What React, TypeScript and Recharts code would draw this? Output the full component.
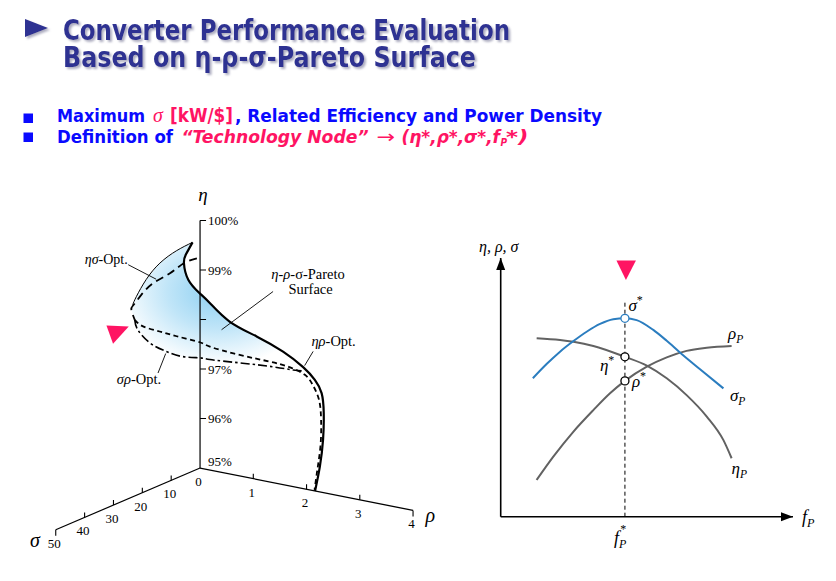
import { ComposedChart, LineChart, Line, Scatter, XAxis, YAxis, ReferenceLine, ReferenceDot } from 'recharts'

// left panel: curves on the eta-rho-sigma Pareto surface, each point is [rho, sigma, eta]
// rho in kW/dm3, sigma in kW/$, eta in %
const etaRhoOpt = [
  [2.16, 0, 95.0], [2.25, 0, 95.51], [2.31, 0, 96.07], [2.35, 0.5, 96.63], [2.31, 0.5, 97.02],
  [2.21, 1, 97.28], [1.99, 1, 97.49], [1.64, 1.5, 97.74], [1.17, 2, 97.96], [0.69, 2.5, 98.17],
  [0.35, 3, 98.48], [0.18, 3.5, 98.66], [0.05, 5, 98.94], [0.05, 6.5, 99.31], [0.14, 7.5, 99.53],
  [0.32, 8.5, 99.84],
]
const etaSigmaEdge = [
  [0.32, 8.5, 99.84], [0.32, 14, 99.81], [0.33, 20, 99.71], [0.29, 24, 99.47], [0.27, 27, 99.2],
  [0.28, 28.5, 99.07],
]
const etaSigmaOpt = [
  [0.32, 7, 99.48], [0.21, 9.5, 99.42], [0.14, 13, 99.29], [0.15, 19, 99.24], [0.17, 23.5, 99.12],
  [0.19, 26.5, 99.0], [0.2, 27.5, 98.93], [0.21, 26.5, 98.7],
]
const nodeCurve = [
  [0.21, 26.5, 98.7], [0.23, 24, 98.51], [0.27, 19, 98.29], [0.32, 14, 98.08], [0.44, 8, 97.83],
  [0.51, 6, 97.71], [0.96, 4, 97.59], [1.47, 3, 97.54], [1.79, 2, 97.47], [2.05, 1.5, 97.36],
  [2.17, 1, 97.17], [2.26, 0.5, 96.88], [2.3, 0.5, 96.48], [2.28, 0.3, 95.97], [2.22, 0.2, 95.49],
  [2.15, 0, 95.02],
]
const sigmaRhoOpt = [
  [0.21, 26.5, 98.7], [0.21, 25.5, 98.48], [0.25, 22, 98.13], [0.29, 17, 97.84], [0.33, 12, 97.62],
  [0.44, 8, 97.52], [0.51, 6, 97.45], [0.96, 4, 97.43], [1.51, 2.5, 97.43], [1.83, 1.5, 97.41],
  [2.01, 1.2, 97.42],
]

const rhoTicks = [0, 1, 2, 3, 4]
const sigmaTicks = [10, 20, 30, 40, 50]
const etaTicks = [95, 96, 97, 98, 99, 100]
const etaTickLabels: Record<number, string> = { 95: '95%', 96: '96%', 97: '97%', 99: '99%', 100: '100%' }

// right panel: [f_P, value] in arbitrary units
const sigmaP = [
  [1.1, 5.35], [1.57, 5.9], [2.03, 6.38], [2.49, 6.79], [2.94, 7.15], [3.4, 7.45], [3.85, 7.63],
  [4.25, 7.67], [4.65, 7.6], [5.22, 7.22], [5.68, 6.8], [6.16, 6.32], [6.82, 5.7], [7.62, 4.96],
]
const etaP = [
  [1.23, 6.9], [2.03, 6.83], [2.49, 6.76], [3.17, 6.6], [4.25, 6.18], [5.0, 5.84], [5.68, 5.35],
  [6.36, 4.7], [7.05, 3.87], [7.62, 2.96], [7.9, 2.26],
]
const rhoP = [
  [1.23, 1.42], [1.8, 2.32], [2.49, 3.29], [3.17, 4.12], [3.74, 4.77], [4.25, 5.25], [5.0, 5.8],
  [5.68, 6.16], [6.36, 6.41], [7.05, 6.53], [7.9, 6.6],
]
const fStar = 4.25
const nodeLineTop = 8.38

const serif = "'Liberation Serif', 'DejaVu Serif', serif"
const narrow = "'DejaVu Sans Condensed', 'Liberation Sans Narrow', 'DejaVu Sans', sans-serif"
const navy = '#2e3192'
const blue = '#0a0aff'
const pink = '#ff1463'
const curveBlue = '#2b7dbf'
const curveGray = '#626262'

// oblique projection of (rho, sigma, eta) onto the page plane
const project = ([rho, sigma, eta]: number[]) => ({
  x: rho - 0.0542 * sigma,
  y: eta - 0.2141 * rho - 0.02493 * sigma,
})
const toXY = (pts: number[][]) => pts.map(([x, y]) => ({ x, y }))
const valueAt = (pts: number[][], f: number) => (pts.find((p) => p[0] === f) || [f, 0])[1]

const NoDot = () => <g />

const AxisTick = (props: any) => {
  const { cx, cy, payload } = props
  const { axis, v } = payload
  if (axis === 'eta') {
    return (
      <g>
        {v !== 95 && <line x1={cx} y1={cy} x2={cx + 6} y2={cy} stroke="#000" strokeWidth={1.1} />}
        {etaTickLabels[v] && (
          <text x={cx + 8} y={v === 95 ? cy - 2.5 : cy + 4.5} fontFamily={serif} fontSize={13} fill="#000">{etaTickLabels[v]}</text>
        )}
      </g>
    )
  }
  const last = axis === 'rho' ? v === 4 : v === 50
  return (
    <g>
      {v !== 0 && <line x1={cx} y1={cy} x2={cx} y2={last ? cy + 6 : cy - 5} stroke="#000" strokeWidth={1.1} />}
      <text x={cx - 1.5} y={cy + 18} textAnchor="middle" fontFamily={serif} fontSize={13} fill="#000">{v}</text>
    </g>
  )
}

// a curve drawn as a scatter line so that it stacks in source order with the surface fill
const curve = (pts: { x: number; y: number }[], style: any, joint = 'natural') => (
  <Scatter data={pts} line={{ fill: 'none', ...style }} lineJointType={joint as any} shape={NoDot} isAnimationActive={false} />
)

function LeftPanel() {
  const surface = [
    ...etaSigmaEdge,
    ...etaSigmaOpt.slice(6),
    ...sigmaRhoOpt.slice(1),
    ...etaRhoOpt.slice(6),
  ].map(project)
  const ticks = [
    ...etaTicks.map((v) => ({ ...project([0, 0, v]), v, axis: 'eta' })),
    ...rhoTicks.map((v) => ({ ...project([v, 0, 95]), v, axis: 'rho' })),
    ...sigmaTicks.map((v) => ({ ...project([0, v, 95]), v, axis: 'sigma' })),
  ]
  const etaAxis = [[0, 0, 95], [0, 0, 100]].map(project)
  const rhoAxis = [[0, 0, 95], [4, 0, 95]].map(project)
  const sigmaAxis = [[0, 0, 95], [0, 50, 95]].map(project)
  const top = project([0, 0, 100])
  const rhoEnd = project([4, 0, 95])
  const sigmaEnd = project([0, 50, 95])
  const aES = project(etaSigmaOpt[3])
  const aSR = project(sigmaRhoOpt[3])
  const aER = project(etaRhoOpt[6])
  const aSurf = project(etaRhoOpt[9])
  const aNode = project(nodeCurve[0])
  const axisStyle = { stroke: '#000', strokeWidth: 1.2 }

  return (
    <ComposedChart width={426} height={381.15} margin={{ top: 0, right: 0, bottom: 0, left: 0 }}>
      <XAxis type="number" dataKey="x" domain={[-3.4, 4.6]} allowDataOverflow hide />
      <YAxis type="number" dataKey="y" domain={[93.2, 100.9]} allowDataOverflow hide />
      {curve(surface, { fill: 'url(#paretoFill)', stroke: 'none' }, 'linear')}
      {curve(etaAxis, axisStyle, 'linear')}
      {curve(rhoAxis, axisStyle, 'linear')}
      {curve(sigmaAxis, axisStyle, 'linear')}
      <Scatter data={ticks} shape={AxisTick} isAnimationActive={false} />
      {curve(etaSigmaEdge.map(project), { stroke: '#000', strokeWidth: 1 })}
      {curve(etaSigmaOpt.map(project), { stroke: '#000', strokeWidth: 1.8, strokeDasharray: '8 5' })}
      {curve(nodeCurve.map(project), { stroke: '#000', strokeWidth: 1.8, strokeDasharray: '5 3.5' })}
      {curve(sigmaRhoOpt.map(project), { stroke: '#000', strokeWidth: 1.6, strokeDasharray: '9 3 2.5 3' })}
      {curve(etaRhoOpt.map(project), { stroke: '#000', strokeWidth: 2.2 })}

      <ReferenceDot x={top.x} y={top.y} r={0} shape={(p: any) => (
        <text x={p.cx + 3} y={p.cy - 20} textAnchor="middle" fontFamily={serif} fontStyle="italic" fontSize={19} fill="#000">η</text>
      )} />
      <ReferenceDot x={rhoEnd.x} y={rhoEnd.y} r={0} shape={(p: any) => (
        <text x={p.cx + 12.5} y={p.cy + 12} fontFamily={serif} fontStyle="italic" fontSize={20} fill="#000">ρ</text>
      )} />
      <ReferenceDot x={sigmaEnd.x} y={sigmaEnd.y} r={0} shape={(p: any) => (
        <text x={p.cx - 16} y={p.cy + 17} textAnchor="end" fontFamily={serif} fontStyle="italic" fontSize={20} fill="#000">σ</text>
      )} />
      <ReferenceDot x={aES.x} y={aES.y} r={0} shape={(p: any) => (
        <g>
          <line x1={p.cx - 25} y1={p.cy - 18.5} x2={p.cx + 3} y2={p.cy - 4} stroke="#000" strokeWidth={0.9} />
          <text x={p.cx - 25.5} y={p.cy - 19} textAnchor="end" fontFamily={serif} fontSize={14} fill="#000">
            <tspan fontStyle="italic">ησ</tspan>-Opt.
          </text>
        </g>
      )} />
      <ReferenceDot x={aSR.x} y={aSR.y} r={0} shape={(p: any) => (
        <g>
          <line x1={p.cx - 8.4} y1={p.cy + 21.5} x2={p.cx - 0.7} y2={p.cy + 2} stroke="#000" strokeWidth={0.9} />
          <text x={p.cx - 27.5} y={p.cy + 32.5} textAnchor="middle" fontFamily={serif} fontSize={14.5} fill="#000">
            <tspan fontStyle="italic">σρ</tspan>-Opt.
          </text>
        </g>
      )} />
      <ReferenceDot x={aER.x} y={aER.y} r={0} shape={(p: any) => (
        <g>
          <line x1={p.cx + 10} y1={p.cy - 15.7} x2={p.cx + 1.5} y2={p.cy - 1.5} stroke="#000" strokeWidth={0.9} />
          <text x={p.cx + 8.3} y={p.cy - 20.7} fontFamily={serif} fontSize={14.5} fill="#000">
            <tspan fontStyle="italic">ηρ</tspan>-Opt.
          </text>
        </g>
      )} />
      <ReferenceDot x={aSurf.x} y={aSurf.y} r={0} shape={(p: any) => (
        <g>
          <line x1={p.cx + 43.5} y1={p.cy - 30} x2={p.cx - 8} y2={p.cy + 8.2} stroke="#000" strokeWidth={0.9} />
          <text x={p.cx + 78.5} y={p.cy - 43} textAnchor="middle" fontFamily={serif} fontSize={14.5} fill="#000">
            <tspan fontStyle="italic">η</tspan>-<tspan fontStyle="italic">ρ</tspan>-σ-Pareto
          </text>
          <text x={p.cx + 81} y={p.cy - 28} textAnchor="middle" fontFamily={serif} fontSize={14.5} fill="#000">Surface</text>
        </g>
      )} />
      <ReferenceDot x={aNode.x} y={aNode.y} r={0} shape={(p: any) => (
        <polygon points={`${p.cx - 28.3},${p.cy + 5.6} ${p.cx - 6},${p.cy + 6.6} ${p.cx - 21.7},${p.cy + 24}`} fill={pink} />
      )} />
    </ComposedChart>
  )
}

function RightPanel() {
  const sigmaStar = valueAt(sigmaP, fStar)
  const etaStar = valueAt(etaP, fStar)
  const rhoStar = valueAt(rhoP, fStar)
  const lastOf = (pts: number[][]) => pts[pts.length - 1]
  const sub = (x: number, y: number, main: string, s: string, size = 17) => (
    <text x={x} y={y} fontFamily={serif} fontStyle="italic" fontSize={size} fill="#000">
      {main}<tspan fontSize={size * 0.68} dy={4}>{s}</tspan>
    </text>
  )
  const star = (x: number, y: number, main: string) => (
    <text x={x} y={y} fontFamily={serif} fontStyle="italic" fontSize={17} fill="#000">
      {main}<tspan fontSize={12} dy={-7} fontStyle="normal">*</tspan>
    </text>
  )
  return (
    <LineChart width={375} height={330} margin={{ top: 28, right: 42, bottom: 43.3, left: 40.7 }}>
      <XAxis type="number" dataKey="x" domain={[0, 10]} allowDataOverflow hide />
      <YAxis type="number" dataKey="y" domain={[0, 10]} allowDataOverflow hide />
      <ReferenceLine segment={[{ x: 0, y: 0 }, { x: 10, y: 0 }]} stroke="#000" strokeWidth={1.6} ifOverflow="visible" />
      <ReferenceLine segment={[{ x: 0, y: 0 }, { x: 0, y: 10 }]} stroke="#000" strokeWidth={1.6} ifOverflow="visible" />
      <ReferenceDot x={10} y={0} r={0} ifOverflow="visible" shape={(p: any) => (
        <g>
          <polygon points={`${p.cx},${p.cy} ${p.cx - 12},${p.cy - 4.5} ${p.cx - 12},${p.cy + 4.5}`} fill="#000" />
          {sub(p.cx + 9, p.cy + 6, 'f', 'P', 18)}
        </g>
      )} />
      <ReferenceDot x={0} y={10} r={0} ifOverflow="visible" shape={(p: any) => (
        <g>
          <polygon points={`${p.cx},${p.cy} ${p.cx - 4.5},${p.cy + 12} ${p.cx + 4.5},${p.cy + 12}`} fill="#000" />
          <text x={p.cx - 2} y={p.cy - 6} textAnchor="middle" fontFamily={serif} fontStyle="italic" fontSize={16} fill="#000">η, ρ, σ</text>
        </g>
      )} />
      <ReferenceLine segment={[{ x: fStar, y: 0 }, { x: fStar, y: nodeLineTop }]} stroke="#000" strokeWidth={1} strokeDasharray="4 3" />
      <Line data={toXY(etaP)} dataKey="y" type="monotone" stroke={curveGray} strokeWidth={2} dot={false} activeDot={false} isAnimationActive={false} />
      <Line data={toXY(rhoP)} dataKey="y" type="monotone" stroke={curveGray} strokeWidth={2} dot={false} activeDot={false} isAnimationActive={false} />
      <Line data={toXY(sigmaP)} dataKey="y" type="monotone" stroke={curveBlue} strokeWidth={2} dot={false} activeDot={false} isAnimationActive={false} />

      <ReferenceDot x={fStar} y={sigmaStar} r={4} shape={(p: any) => (
        <g>
          <circle cx={p.cx} cy={p.cy} r={4} fill="#fff" stroke={curveBlue} strokeWidth={1.3} />
          {star(p.cx + 3.5, p.cy - 7, 'σ')}
        </g>
      )} />
      <ReferenceDot x={fStar} y={etaStar} r={4} shape={(p: any) => (
        <g>
          <circle cx={p.cx} cy={p.cy} r={4} fill="#fff" stroke="#000" strokeWidth={1.3} />
          {star(p.cx - 25, p.cy + 14, 'η')}
        </g>
      )} />
      <ReferenceDot x={fStar} y={rhoStar} r={4} shape={(p: any) => (
        <g>
          <circle cx={p.cx} cy={p.cy} r={4} fill="#fff" stroke="#000" strokeWidth={1.3} />
          {star(p.cx + 7, p.cy + 6, 'ρ')}
        </g>
      )} />
      <ReferenceDot x={fStar} y={nodeLineTop} r={0} shape={(p: any) => (
        <polygon points={`${p.cx - 8.5},${p.cy - 39.5} ${p.cx + 11},${p.cy - 39.5} ${p.cx + 1},${p.cy - 20}`} fill={pink} />
      )} />
      <ReferenceDot x={fStar} y={0} r={0} shape={(p: any) => (
        <text x={p.cx - 11} y={p.cy + 27} fontFamily={serif} fontStyle="italic" fontSize={18} fill="#000">
          f<tspan fontSize={12} dy={4}>P</tspan><tspan fontSize={12} dx={-6} dy={-15} fontStyle="normal">*</tspan>
        </text>
      )} />
      <ReferenceDot x={lastOf(rhoP)[0]} y={lastOf(rhoP)[1]} r={0} shape={(p: any) => sub(p.cx - 3.5, p.cy - 7, 'ρ', 'P')} />
      <ReferenceDot x={lastOf(sigmaP)[0]} y={lastOf(sigmaP)[1]} r={0} shape={(p: any) => sub(p.cx + 6.5, p.cy + 12.5, 'σ', 'P')} />
      <ReferenceDot x={lastOf(etaP)[0]} y={lastOf(etaP)[1]} r={0} shape={(p: any) => sub(p.cx, p.cy + 15.5, 'η', 'P')} />
    </LineChart>
  )
}

export default function App() {
  return (
    <div style={{ position: 'absolute', left: 0, top: 0, width: 836, height: 581, background: '#fff', overflow: 'hidden' }}>
      <svg width={836} height={160} style={{ position: 'absolute', left: 0, top: 0 }}>
        <defs>
          <radialGradient id="paretoFill" cx="0.5" cy="0.38" r="0.58">
            <stop offset="0" stopColor="#8ccff1" />
            <stop offset="0.5" stopColor="#c0e5f8" />
            <stop offset="1" stopColor="#ffffff" />
          </radialGradient>
          <filter id="titleShadow" x="-5%" y="-30%" width="110%" height="160%">
            <feDropShadow dx={2} dy={2} stdDeviation={1} floodColor="#8a8aa6" floodOpacity={0.7} />
          </filter>
        </defs>
        <g filter="url(#titleShadow)" fill={navy}>
          <polygon points="25,19 25,37 48,28" />
          <text fontFamily={narrow} fontWeight="bold" fontSize={28.5}>
            <tspan x={63} y={40} textLength={447} lengthAdjust="spacingAndGlyphs">Converter Performance Evaluation</tspan>
            <tspan x={63} y={67} textLength={413} lengthAdjust="spacingAndGlyphs">Based on η-ρ-σ-Pareto Surface</tspan>
          </text>
        </g>

        <rect x={23.5} y={113.5} width={9.5} height={9.5} fill={blue} />
        <rect x={23.5} y={132.5} width={9.5} height={9.5} fill={blue} />
        <text y={122} fontFamily={narrow} fontWeight="bold" fontSize={18} fill={blue}>
          <tspan x={57} textLength={88} lengthAdjust="spacingAndGlyphs">Maximum</tspan>
          <tspan x={153} fill={pink} fontFamily={serif} fontStyle="italic" fontWeight="normal" fontSize={20}>σ</tspan>
          <tspan x={170} fill={pink} fontSize={19} textLength={63} lengthAdjust="spacingAndGlyphs">[kW/$]</tspan>
          <tspan x={235} textLength={367} lengthAdjust="spacingAndGlyphs">, Related Efficiency and Power Density</tspan>
        </text>
        <text y={142.5} fontFamily={narrow} fontWeight="bold" fontSize={18} fill={blue}>
          <tspan x={57} textLength={116} lengthAdjust="spacingAndGlyphs">Definition of</tspan>
          <tspan x={181.5} fill={pink} fontStyle="italic" textLength={187} lengthAdjust="spacingAndGlyphs">“Technology Node”</tspan>
          <tspan x={376.5} fill={pink} fontWeight="normal" textLength={18.5} lengthAdjust="spacingAndGlyphs">→</tspan>
          <tspan x={401.5} fill={pink} fontStyle="italic" textLength={98.5} lengthAdjust="spacingAndGlyphs">(η*,ρ*,σ*,f</tspan>
          <tspan x={500.5} dy={3.5} fill={pink} fontStyle="italic" fontSize={10}>P</tspan>
          <tspan x={506} dy={-3.5} fill={pink} fontStyle="italic" textLength={22.5} lengthAdjust="spacingAndGlyphs">*)</tspan>
        </text>
      </svg>
      <div style={{ position: 'absolute', left: 19.25, top: 176.25 }}>
        <LeftPanel />
      </div>
      <div style={{ position: 'absolute', left: 460, top: 230 }}>
        <RightPanel />
      </div>
    </div>
  )
}
